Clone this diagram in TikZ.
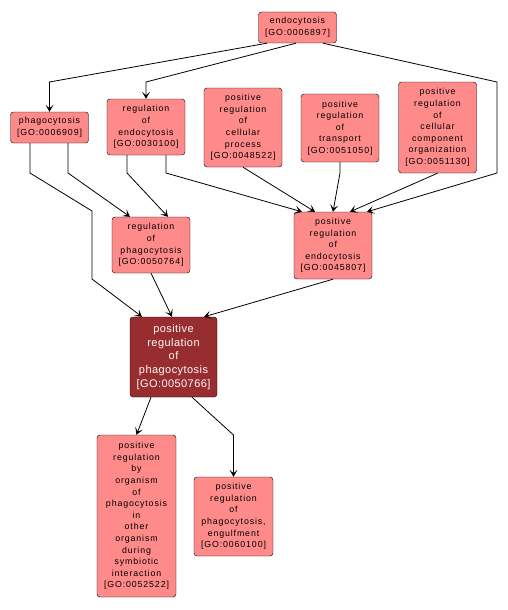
\documentclass[tikz,border=0pt]{standalone}
\usepackage{fontspec}
\setmainfont{Liberation Sans}
\usetikzlibrary{arrows.meta}
\definecolor{termfill}{RGB}{255,138,138}
\definecolor{mainfill}{RGB}{152,45,48}
\tikzset{
  term/.style={draw, rounded corners=3pt, fill=termfill, align=center,
    minimum width=78pt, inner sep=1pt,
    font=\fontsize{8.8}{11.6}\selectfont\addfontfeature{LetterSpace=10}},
  mainterm/.style={term, fill=mainfill, text=white!92!pink, minimum width=87pt,
    font=\fontsize{11}{13.8}\selectfont\addfontfeature{LetterSpace=4}},
  isa/.style={-{Stealth[length=7pt,width=8pt,inset=3.5pt]}, line width=0.8pt}
}
\begin{document}
\begin{tikzpicture}[x=1pt,y=-1pt]
\useasboundingbox (0,0) rectangle (507,610);

\node[term, minimum height=31pt] (endo) at (297.5,27.5) {endocytosis\\{[GO:0006897]}};
\node[term, minimum height=31pt] (phago) at (49.5,127.5) {phagocytosis\\{[GO:0006909]}};
\node[term, minimum height=56pt] (regendo) at (146,127) {regulation\\of\\endocytosis\\{[GO:0030100]}};
\node[term, minimum height=79pt] (cellproc) at (243,127.5) {positive\\regulation\\of\\cellular\\process\\{[GO:0048522]}};
\node[term, minimum height=68pt] (transp) at (340,128) {positive\\regulation\\of\\transport\\{[GO:0051050]}};
\node[term, minimum height=91pt] (comporg) at (437.5,127.5) {positive\\regulation\\of\\cellular\\component\\organization\\{[GO:0051130]}};
\node[term, minimum height=56pt] (regphago) at (151,245) {regulation\\of\\phagocytosis\\{[GO:0050764]}};
\node[term, minimum height=67pt] (preendo) at (333,245.5) {positive\\regulation\\of\\endocytosis\\{[GO:0045807]}};
\node[mainterm, minimum height=80pt] (main) at (173.5,357) {positive\\regulation\\of\\phagocytosis\\{[GO:0050766]}};
\node[term, minimum height=162pt, minimum width=79pt] (symb) at (136.5,516) {positive\\regulation\\by\\organism\\of\\phagocytosis\\in\\other\\organism\\during\\symbiotic\\interaction\\{[GO:0052522]}};
\node[term, minimum height=79pt, minimum width=79pt] (engulf) at (233.5,516.5) {positive\\regulation\\of\\phagocytosis,\\engulfment\\{[GO:0060100]}};

% edges from endocytosis
\draw[isa] ([xshift=-30.5pt]endo.south) -- (49.5,82) -- (phago.north);
\draw[isa] ([xshift=-1.5pt]endo.south) -- (146,82) -- (regendo.north);
\draw[isa] ([xshift=25.5pt]endo.south) -- (497,82) -- (497,173) -- ([xshift=34pt]preendo.north);

% into positive regulation of endocytosis
\draw[isa] ([xshift=20pt]regendo.south) -- (166,173) -- ([xshift=-31pt]preendo.north);
\draw[isa] (cellproc.south) -- ([xshift=-18pt]preendo.north);
\draw[isa] (transp.south) -- (340,173) -- (preendo.north);
\draw[isa] (comporg.south) -- ([xshift=17pt]preendo.north);

% into regulation of phagocytosis
\draw[isa] ([xshift=18.5pt]phago.south) -- (68,173) -- ([xshift=-21pt]regphago.north);
\draw[isa] ([xshift=-19pt]regendo.south) -- (127,173) -- ([xshift=17pt]regphago.north);

% into positive regulation of phagocytosis
\draw[isa] ([xshift=-19.5pt]phago.south) -- (30,173) -- (92,211) -- (92,279) -- ([xshift=-31.5pt]main.north);
\draw[isa] (regphago.south) -- ([xshift=-1.5pt]main.north);
\draw[isa] (preendo.south) -- ([xshift=30.5pt]main.north);

% children
\draw[isa] ([xshift=-22.5pt]main.south) -- (symb.north);
\draw[isa] ([xshift=18.5pt]main.south) -- (233.5,435) -- (engulf.north);
\end{tikzpicture}
\end{document}
